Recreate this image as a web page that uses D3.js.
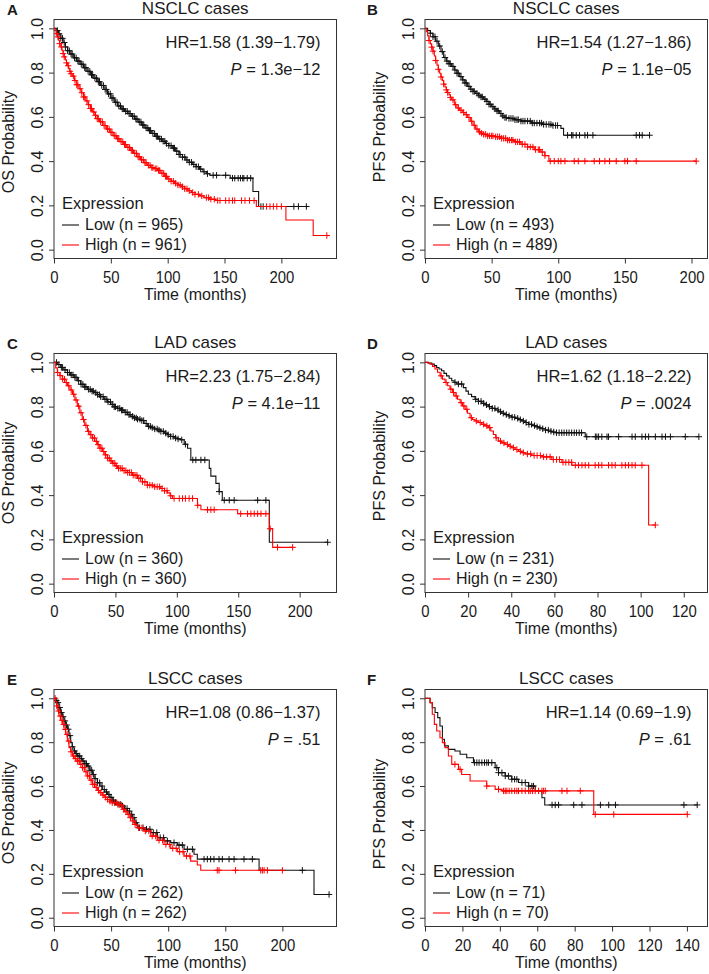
<!DOCTYPE html>
<html><head><meta charset="utf-8">
<script src="https://cdn.jsdelivr.net/npm/d3@7/dist/d3.min.js"></script>
<style>
body{margin:0;background:#fff}
svg{display:block}
text{font-family:"Liberation Sans",Arial,Helvetica,sans-serif;fill:#1a1a1a}
</style></head><body>
<svg id="chart" width="709" height="974"></svg>
<script>
// ---------------- DATA ----------------
const panelLetters = ["A","B","C","D","E","F"];
const panelTitles = ["NSCLC cases","NSCLC cases","LAD cases","LAD cases","LSCC cases","LSCC cases"];
const yTitles = ["OS Probability","PFS Probability","OS Probability","PFS Probability","OS Probability","PFS Probability"];
const hrTexts = ["HR=1.58 (1.39\u22121.79)","HR=1.54 (1.27\u22121.86)","HR=2.23 (1.75\u22122.84)","HR=1.62 (1.18\u22122.22)","HR=1.08 (0.86\u22121.37)","HR=1.14 (0.69\u22121.9)"];
const pValues = ["= 1.3e\u221212","= 1.1e\u221205","= 4.1e\u221211","= .0024","= .51","= .61"];
const nLow = [965,493,360,231,262,71];
const nHigh = [961,489,360,230,262,70];
const xMax = [248.5,212,230,131,247.4,151];
const xTicks = [[0,50,100,150,200],[0,50,100,150,200],[0,50,100,150,200],[0,20,40,60,80,100,120],[0,50,100,150,200],[0,20,40,60,80,100,120,140]];
const yTicks = [0,0.2,0.4,0.6,0.8,1.0];
const xTitle = "Time (months)";
const legendTitle = "Expression";
const groupNames = ["Low","High"];

// Kaplan-Meier steps: [time (months), survival after step]
const lowA = [[0,1],[2,0.99],[4,0.975],[6,0.955],[8,0.936],[10,0.916],[12,0.899],[14,0.884],[17,0.867],[20,0.852],[23,0.838],[26,0.822],[29,0.806],[32,0.79],[35,0.775],[38,0.759],[41,0.742],[44,0.724],[47,0.704],[50,0.685],[53,0.666],[56,0.649],[59,0.636],[62,0.625],[65,0.615],[68,0.603],[71,0.59],[74,0.577],[77,0.563],[80,0.55],[83,0.538],[86,0.525],[89,0.512],[92,0.5],[95,0.49],[98,0.48],[101,0.47],[104,0.459],[107,0.445],[110,0.43],[113,0.418],[116,0.405],[119,0.395],[122,0.385],[125,0.375],[128,0.364],[131,0.352],[134,0.343],[137,0.336],[155,0.323],[175,0.263],[180,0.195],[222,0.195]];
const highA = [[0,1],[1,0.99],[2,0.976],[3,0.961],[4,0.946],[5,0.931],[6,0.916],[7,0.901],[8,0.886],[9,0.871],[10,0.857],[11,0.844],[12,0.831],[13,0.818],[14,0.806],[15,0.795],[16,0.784],[18,0.764],[20,0.745],[22,0.727],[24,0.709],[26,0.69],[28,0.672],[30,0.655],[32,0.638],[34,0.622],[36,0.607],[38,0.592],[40,0.578],[43,0.561],[46,0.545],[49,0.53],[52,0.515],[55,0.501],[58,0.488],[61,0.475],[64,0.462],[67,0.449],[70,0.435],[73,0.42],[76,0.406],[79,0.393],[82,0.381],[85,0.371],[88,0.366],[91,0.358],[94,0.345],[97,0.331],[100,0.319],[103,0.309],[106,0.3],[109,0.292],[112,0.284],[115,0.275],[118,0.266],[121,0.258],[124,0.25],[128,0.243],[132,0.235],[137,0.228],[142,0.222],[178,0.195],[204,0.134],[228,0.064],[240,0.064]];
const censLowA = [3,4.5,6,7.5,9,10,12,13.5,15,16,18,19.5,21,22,24,25.5,27,28,30,31.5,33,34,36,37.5,39,40,42,43.5,45,46,48,49.5,51,52,54,55.5,57,58.5,60,61,63,64.5,66,67,69,70.5,72,73,75,76.5,78,79,81,82.5,84,85,87,88.5,90,91,93,94.5,96,97.5,99,101,103,105,106,108,110,111,113,115,117,119,121,123,125,127,129,132,135,140,143,151,157,159,162,164,166,167,170,173,182,184,211,215,222];
const censHighA = [2,3.5,5,6.5,8,9,11,12.5,14,15,17,18.5,20,21,23,24.5,26,27,29,30.5,32,33,35,36.5,38,39,41,42.5,44,45,47,48.5,50,51,53,54.5,56,57,59,60.5,62,63,65,66.5,68,69,71,72.5,74,75,77,78.5,80,81,83,84.5,86,87,89,90.5,92,93,95,96.5,98,99,101,103,105,107,109,111,113,115,117,119,122,124,127,130,134,136,138,141,144,146,151,154,157,159,165,168,172,176,187,190,193,196,200,240];

const lowB = [[0,1],[2,0.99],[4,0.978],[6,0.962],[8,0.942],[10,0.92],[12,0.895],[14,0.868],[16,0.852],[18,0.84],[20,0.828],[22,0.812],[24,0.797],[26,0.782],[28,0.767],[30,0.753],[32,0.738],[34,0.725],[36,0.715],[38,0.706],[40,0.698],[42,0.69],[44,0.68],[46,0.67],[48,0.657],[50,0.646],[52,0.636],[54,0.627],[56,0.615],[58,0.604],[60,0.597],[63,0.593],[67,0.587],[72,0.581],[80,0.572],[88,0.566],[96,0.561],[102,0.548],[104,0.517],[168.5,0.517]];
const highB = [[0,1],[1,0.985],[2,0.966],[3,0.945],[4,0.93],[5,0.915],[6,0.897],[7,0.875],[8,0.855],[9,0.834],[10,0.815],[11,0.797],[12,0.78],[13,0.765],[14,0.748],[15,0.735],[16,0.722],[17,0.71],[18,0.7],[19,0.688],[20,0.677],[22,0.655],[24,0.64],[26,0.63],[28,0.62],[30,0.61],[32,0.597],[34,0.58],[36,0.562],[38,0.545],[40,0.532],[42,0.526],[44,0.521],[47,0.514],[52,0.51],[57,0.503],[62,0.495],[67,0.487],[72,0.476],[77,0.464],[82,0.452],[87,0.441],[90,0.425],[93,0.4],[203.5,0.4]];
const censLowB = [4,6,7.5,9,11,13,15,16.5,18,19,21,22.5,24,25,27,28.5,30,31,33,34.5,36,37,39,40.5,42,43,45,46.5,48,49,51,52.5,54,55,57,58.5,60,61,63,64.5,66,67.5,69,70,72,73.5,75,77,79,80.5,82,84,86,87.5,89,91,93,94.5,96,98,99.5,107,110,111,113.5,116,120,122,126,158.5,161,163,168.5];
const censHighB = [3,5,6,8,10,12,14,16,17,19,21,23,25,27,29,31,33,35,37,39,41,42.5,44,45.5,47,48.5,50,51,53,54.5,56,57.5,59,60.5,62,63.5,65,66,68,69.5,71,73,75,77,79,81,83,85,86,88,90,94,97,100,102,105,112,115,120,127,131,135,138.5,143.5,150,152,158.5,203.5];

const lowC = [[0,1],[3,0.99],[5.4,0.977],[8,0.966],[10.9,0.954],[13.5,0.943],[16.3,0.932],[19,0.917],[21.7,0.901],[24.5,0.889],[27.2,0.878],[30,0.87],[32.6,0.863],[35.3,0.854],[38,0.845],[40.7,0.833],[43.5,0.821],[46.2,0.81],[48.9,0.799],[51.6,0.792],[54.3,0.784],[57,0.774],[59.8,0.764],[62.5,0.756],[65.2,0.749],[68,0.743],[70.7,0.737],[73.3,0.724],[76,0.711],[78.8,0.705],[81.5,0.699],[84.2,0.694],[87,0.688],[89.7,0.68],[92.4,0.673],[95,0.665],[97.8,0.658],[100.5,0.654],[103,0.65],[106,0.63],[108.7,0.612],[111.4,0.559],[126.4,0.521],[127.7,0.486],[131.8,0.453],[134.5,0.416],[137,0.377],[175.3,0.187],[222.8,0.187]];
const highC = [[0,1],[1.4,0.975],[2.7,0.954],[4.8,0.94],[6.8,0.924],[8.8,0.909],[10.9,0.894],[13,0.875],[15,0.856],[17,0.83],[19,0.802],[21,0.772],[23,0.742],[25,0.715],[27.2,0.688],[29.2,0.673],[31.2,0.658],[33.2,0.643],[35.3,0.628],[37.3,0.612],[39.4,0.597],[41.4,0.582],[43.5,0.567],[45.5,0.555],[47.6,0.544],[49.6,0.532],[51.6,0.521],[55.7,0.511],[59.8,0.502],[63.9,0.49],[68,0.476],[72,0.46],[76,0.445],[81.5,0.438],[87,0.43],[90,0.42],[92.4,0.41],[94.5,0.397],[96.5,0.385],[116.8,0.354],[119.6,0.334],[149.5,0.316],[175.3,0.248],[178,0.164],[194.3,0.164]];
const censLowC = [2,4,6,7,9,11,12.5,14,15.5,17,18,20,22,23.5,25,26,28,29.5,31,32,34,35.5,37,38,40,41.5,43,44,46,47.5,49,50,52,53.5,55,56,58,59.5,61,62,64,65.5,67,68,70,71.5,73,75,77,78.5,80,82,84,85.5,87,89,91,93,95,97,99,101,104,107,113,115.5,119.6,122.8,134.5,138.6,142.7,146.7,165.8,172.5,222.8];
const censHighC = [3,5,7,8.5,10,12,14,16,18,20,22,24,26,28,30,31.5,33,34.5,36,37.5,39,40.5,42,43.5,45,46.5,48,49.5,51,52.5,54,55.5,57,58.5,60,61.5,63,64.5,66,67.5,69,70.5,72,74,76,78,80,82,84,86,88,90,92,95,97.8,102,104.6,107,110,112.8,117,125,127.7,130.4,152,157.6,160.3,163,165.8,168.5,172.5,176,182,194.3];

const lowD = [[0,1],[1.5,0.997],[3.1,0.992],[4.3,0.985],[5.4,0.977],[6.5,0.97],[7.7,0.962],[8.8,0.95],[10,0.939],[11.2,0.928],[12.4,0.917],[13.5,0.91],[14.7,0.902],[17.8,0.886],[19,0.87],[20.1,0.856],[21.6,0.845],[23.2,0.833],[24.7,0.824],[26.3,0.815],[27.8,0.808],[29.4,0.8],[31,0.792],[32.5,0.785],[34,0.777],[35.6,0.77],[37.1,0.764],[38.7,0.758],[40.2,0.752],[41.8,0.747],[43.3,0.741],[44.9,0.735],[46.5,0.728],[48,0.72],[49.6,0.714],[51.1,0.709],[52.7,0.704],[54.2,0.7],[55.8,0.694],[57.3,0.689],[58.8,0.685],[60.4,0.682],[74.3,0.664],[127,0.664]];
const highD = [[0,1],[1.2,0.997],[2.3,0.992],[3.5,0.982],[4.6,0.97],[5.8,0.955],[7,0.939],[8.1,0.924],[9.3,0.909],[10.5,0.894],[11.6,0.879],[12.8,0.864],[13.9,0.848],[15.1,0.833],[16.3,0.818],[17.4,0.803],[18.6,0.788],[19.7,0.77],[20.9,0.75],[22,0.742],[23.2,0.735],[24.8,0.728],[26.3,0.72],[27.8,0.713],[29.4,0.705],[30.5,0.69],[31.7,0.674],[32.8,0.659],[34,0.644],[35.6,0.636],[37.2,0.629],[38.7,0.621],[40.2,0.614],[41.8,0.606],[43.3,0.598],[44.9,0.592],[46.4,0.586],[49.5,0.579],[54.2,0.573],[58.8,0.561],[63.5,0.548],[68.1,0.535],[103.7,0.265],[106.8,0.265]];
const censLowD = [13.9,15.5,17,23.5,24.8,26,27.2,28.5,29.9,31.2,32.4,33.9,35,36.3,37.7,39,40.4,41.6,43,44.2,45.6,46.9,48.2,49.4,50.8,52,53.3,54.6,55.9,57.2,58.4,59.7,61,62.2,63.4,64.5,65.7,66.8,68,69.2,70.3,71.5,72.6,75,79,79.7,80.5,82,84.4,85.1,89.8,96,97.5,100.6,102.2,103.7,106.8,109.9,111.5,113.8,120.7,127];
const censHighD = [7.5,9.8,12,13.2,14.5,16.8,18,19.4,21.5,23.8,25.6,27.2,28.7,30,33,35,36.6,38.2,39.5,41,42.6,44.2,45.6,47.5,49,50.6,52,53.5,55,56.4,58,59.5,61,62.4,64,65.3,66.7,68,69.7,71.2,72.8,74.3,75.9,78.9,80.5,82,85.1,86.7,88.2,91.3,92.9,94.4,96,97.5,100.6,106.8];

const lowE = [[0,1],[1.5,0.99],[2.9,0.98],[4.4,0.958],[5.8,0.935],[7.3,0.916],[8.8,0.897],[10.2,0.878],[11.7,0.859],[13.1,0.83],[14.6,0.798],[16,0.779],[17.5,0.76],[19,0.748],[20.4,0.737],[22.6,0.725],[24.8,0.714],[27,0.702],[29.2,0.691],[31.4,0.672],[33.6,0.653],[35.8,0.634],[38,0.615],[40.2,0.6],[42.3,0.584],[44.5,0.573],[46.7,0.562],[48.9,0.549],[51,0.535],[53.3,0.526],[55.5,0.517],[59.9,0.509],[62,0.498],[64.2,0.486],[66.4,0.471],[68.6,0.456],[70.8,0.433],[73,0.41],[78.8,0.403],[84.7,0.388],[90.5,0.365],[96.4,0.35],[102.2,0.342],[108,0.331],[113.9,0.312],[122.6,0.289],[125.5,0.267],[179.6,0.216],[227.7,0.106],[240.9,0.106]];
const highE = [[0,1],[1.2,0.985],[2.3,0.965],[3.3,0.942],[4.4,0.919],[5.8,0.9],[7.3,0.881],[8.8,0.858],[10.2,0.836],[11.7,0.805],[13.1,0.775],[14.6,0.756],[16.1,0.737],[18.2,0.725],[20.4,0.714],[22.6,0.699],[24.8,0.684],[27,0.665],[29.2,0.646],[31.4,0.627],[33.6,0.608],[35.8,0.594],[38,0.58],[40.2,0.57],[42.3,0.559],[44.5,0.549],[46.7,0.539],[48.9,0.531],[51,0.524],[55.5,0.514],[59.9,0.494],[62,0.483],[64.2,0.471],[66.4,0.456],[68.6,0.441],[70.8,0.425],[73,0.41],[78.8,0.395],[84.7,0.372],[90.5,0.353],[96.4,0.334],[102.2,0.316],[108,0.301],[113.9,0.281],[119.7,0.258],[125.5,0.24],[128.5,0.216],[200,0.216]];
const censLowE = [2,3.5,5,6.5,8,9.5,11,12.5,14,16,18,19.5,21,22.5,24,25.5,27,28.5,30,31.5,33,34.5,36,38,40,42,44,46,48,50,52,54,56,58,60,62,64,66,68,70,72,75,78,81,84,87,90,93,96,99.3,105.1,109.5,112.4,116.8,121.2,131.4,134.3,137.2,140.1,144.5,147.4,153.3,157.7,166.4,173.7,217.5,240.9];
const censHighE = [1,2.5,4,5.5,7,8.5,10,11.5,13,15,17,19,20.5,22,23.5,25,26.5,28,29.5,31,32.5,34,35.5,37,39,41,43,45,47,49,51,53,55,57,59,61,63,65,67,69,71,74,77,80,83,86,89,92,95,98,101,104,107,110,113,116,119,143,144.5,159,181,182.5,184,186.9,200];

const lowF = [[0,1],[2.7,0.98],[3.9,0.957],[5.4,0.935],[6.8,0.912],[8,0.874],[9.3,0.813],[10.4,0.783],[12.5,0.767],[16,0.76],[18.75,0.745],[22.3,0.729],[25.9,0.707],[37.5,0.684],[39.3,0.661],[42.9,0.646],[46.4,0.631],[50,0.616],[55.4,0.6],[58.9,0.578],[62.5,0.547],[64,0.514],[145.5,0.514]];
const highF = [[0,1],[2.7,0.98],[3.9,0.927],[5,0.881],[6.25,0.851],[8,0.82],[9.3,0.798],[10.7,0.775],[12.5,0.737],[14.3,0.699],[17.9,0.676],[19.6,0.653],[24.1,0.623],[33,0.6],[37.5,0.585],[41.1,0.578],[90.2,0.471],[140.2,0.471]];
const censLowF = [26.4,27.7,28.9,30.4,31.8,33,33.9,35.7,38.4,39.3,41.1,42.9,44.6,46.4,47.9,49.1,51.8,53.6,55.4,57.1,58,67.9,69.6,71.4,79.5,83.9,93.75,98.2,101.8,138.4,145.5];
const censHighF = [16,18.75,33,39.3,42,42.9,43.75,45,46.4,47.9,49.1,50,51.8,53.6,55.4,56.25,57.5,58.9,60.7,62.5,63.4,64.3,73.2,75.9,83,91,100.9,140.2];

const lowSteps = [lowA,lowB,lowC,lowD,lowE,lowF];
const highSteps = [highA,highB,highC,highD,highE,highF];
const lowCensor = [censLowA,censLowB,censLowC,censLowD,censLowE,censLowF];
const highCensor = [censHighA,censHighB,censHighC,censHighD,censHighE,censHighF];
const colors = ["#111111","#ff0000"];

// ---------------- LAYOUT ----------------
const svg = d3.select("#chart");
const colLeft = [54, 425];
const rowTop = [19.5, 353.5, 689.5];
const rowBottom = [258.5, 592.5, 926.5];
const W = 282.5;
const letterX = [7, 367];
const yTitleShift = [3, -12, 0, -7, 5, 6];
const FS = 16;

function survAt(steps, t) {
  const i = d3.bisector(d => d[0]).right(steps, t) - 1;
  return steps[Math.max(0, i)][1];
}

for (let i = 0; i < 6; i++) {
  const col = i % 2, row = Math.floor(i / 2);
  const L = colLeft[col], R = L + W, T = rowTop[row], B = rowBottom[row];
  const g = svg.append("g");
  const x = d3.scaleLinear().domain([0, xMax[i]]).range([L, R]);
  const y = d3.scaleLinear().domain([-0.04, 1.04]).range([B, T]);

  // x axis
  const xa = g.append("g").attr("transform", `translate(0,${B})`)
    .call(d3.axisBottom(x).tickValues(xTicks[i]).tickSize(5).tickSizeOuter(0).tickFormat(d3.format("d")));
  xa.attr("font-size", FS).attr("font-family", null);
  xa.select(".domain").remove();
  xa.selectAll("line").attr("stroke", "#333");
  xa.selectAll("text").attr("fill", "#1a1a1a")
    .attr("y", 0).attr("dy", null).attr("transform", "translate(0,24.5) scale(0.93,1)");

  // y axis
  const ya = g.append("g").attr("transform", `translate(${L},0)`)
    .call(d3.axisLeft(y).tickValues(yTicks).tickSize(5).tickSizeOuter(0).tickFormat(d3.format(".1f")));
  ya.attr("font-size", FS).attr("font-family", null);
  ya.select(".domain").remove();
  ya.selectAll("line").attr("stroke", "#333");
  ya.selectAll("text").attr("fill", "#1a1a1a")
    .attr("x", 0).attr("y", -11.5).attr("dy", null)
    .attr("text-anchor", "middle").attr("transform", "rotate(-90)");

  // box
  g.append("rect").attr("x", L).attr("y", T).attr("width", R - L).attr("height", B - T)
    .attr("fill", "none").attr("stroke", "#333").attr("stroke-width", 1);

  // titles
  g.append("text").attr("x", (L + R) / 2).attr("y", T - 5.5).attr("text-anchor", "middle")
    .attr("font-size", 17).text(panelTitles[i]);
  g.append("text").attr("x", letterX[col]).attr("y", T - 5).attr("font-size", 15)
    .attr("font-weight", "bold").text(panelLetters[i]);
  g.append("text").attr("x", (L + R) / 2).attr("y", B + 41.5).attr("text-anchor", "middle")
    .attr("font-size", 16).text(xTitle);
  g.append("text").attr("transform", `translate(${L - 40},${(T + B) / 2 + yTitleShift[i]}) rotate(-90)`)
    .attr("text-anchor", "middle").attr("font-size", 16).text(yTitles[i]);

  // HR and P
  g.append("text").attr("x", R - 16).attr("y", T + 28).attr("text-anchor", "end")
    .attr("font-size", 16.5).text(hrTexts[i]);
  const pt = g.append("text").attr("x", R - 16).attr("y", T + 55).attr("text-anchor", "end").attr("font-size", 16.5);
  pt.append("tspan").attr("font-style", "italic").text("P");
  pt.append("tspan").text(" " + pValues[i]);

  // curves
  const line = d3.line().x(d => x(d[0])).y(d => y(d[1])).curve(d3.curveStepAfter);
  const clip = "clip" + i;
  g.append("clipPath").attr("id", clip).append("rect").attr("x", L).attr("y", T).attr("width", R - L).attr("height", B - T);
  const plot = g.append("g").attr("clip-path", `url(#${clip})`);
  [[lowSteps[i], lowCensor[i], colors[0]], [highSteps[i], highCensor[i], colors[1]]].forEach(([steps, cens, c]) => {
    plot.append("path").attr("d", line(steps)).attr("fill", "none").attr("stroke", c).attr("stroke-width", 1.1);
    plot.append("path").attr("fill", "none").attr("stroke", c).attr("stroke-width", 1)
      .attr("d", cens.map(t => {
        const px = x(t), py = y(survAt(steps, t));
        return `M${px - 3.2},${py}H${px + 3.2}M${px},${py - 3.2}V${py + 3.2}`;
      }).join(""));
  });

  // legend
  const lx = L + 8;
  g.append("text").attr("x", lx).attr("y", B - 50).attr("font-size", 16.5).text(legendTitle);
  [[nLow[i], 0], [nHigh[i], 1]].forEach(([n, k]) => {
    const by = B - 28.5 + k * 20;
    g.append("line").attr("x1", lx).attr("x2", lx + 17).attr("y1", by - 5).attr("y2", by - 5)
      .attr("stroke", colors[k]).attr("stroke-width", 1.1);
    g.append("text").attr("x", lx + 23).attr("y", by).attr("font-size", 16)
      .text(`${groupNames[k]} (n = ${n})`);
  });
}
</script>
</body></html>
